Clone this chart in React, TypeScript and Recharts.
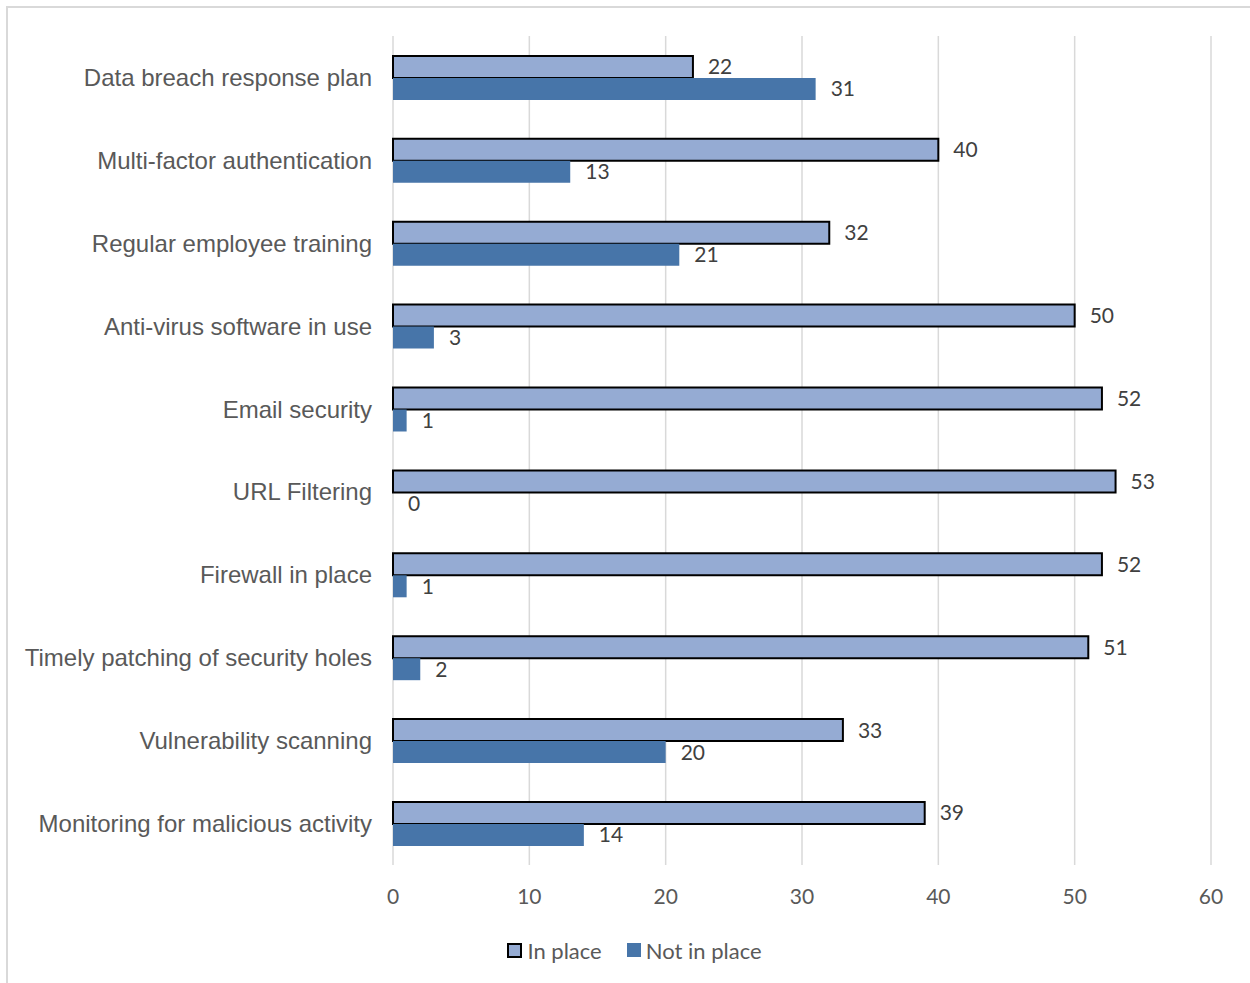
import React from 'react';
import {
  BarChart, Bar, XAxis, YAxis, CartesianGrid, Legend, LabelList,
} from 'recharts';

const categories = [
  'Data breach response plan',
  'Multi-factor authentication',
  'Regular employee training',
  'Anti-virus software in use',
  'Email security',
  'URL Filtering',
  'Firewall in place',
  'Timely patching of security holes',
  'Vulnerability scanning',
  'Monitoring for malicious activity',
];
const inPlace = [22, 40, 32, 50, 52, 53, 52, 51, 33, 39];
const notInPlace = [31, 13, 21, 3, 1, 0, 1, 2, 20, 14];
const xTicks = [0, 10, 20, 30, 40, 50, 60];

const data = categories.map((name, i) => ({
  name,
  inPlace: inPlace[i],
  notInPlace: notInPlace[i],
}));

const IN_COLOR = '#95ABD3';
const NOT_COLOR = '#4775A9';
const TEXT = '#595959';
const NUM_FONT = 'Lato, "Open Sans", sans-serif';

const LegendContent = () => (
  <div style={{ display: 'flex', justifyContent: 'center', alignItems: 'center', height: 30, marginLeft: 50, fontFamily: NUM_FONT, fontSize: 22, color: TEXT }}>
    <span style={{ display: 'inline-block', width: 11, height: 11, background: IN_COLOR, border: '2px solid #000', marginRight: 5 }} />
    <span style={{ marginRight: 25 }}>In place</span>
    <span style={{ display: 'inline-block', width: 14, height: 14, background: NOT_COLOR, marginRight: 5 }} />
    <span>Not in place</span>
  </div>
);

// a zero value still needs its "0" label, so give it a hair-thin bar
const tinyForZero = (value: number) => (value === 0 ? 0.01 : 0);

export default function App() {
  return (
    <div style={{
      position: 'absolute', left: 6, top: 6, width: 1244, height: 977, boxSizing: 'border-box',
      borderTop: '2px solid #d9d9d9', borderLeft: '2px solid #d9d9d9', background: '#fff',
    }}>
      <BarChart
        width={1242}
        height={975}
        data={data}
        layout="vertical"
        margin={{ top: 28, right: 39, left: 0, bottom: 18 }}
        barCategoryGap="24%"
        barGap={0}
      >
        <CartesianGrid horizontal={false} vertical stroke="#d9d9d9" strokeWidth={1.5} />
        <XAxis
          type="number"
          domain={[0, 60]}
          ticks={xTicks}
          axisLine={false}
          tickLine={false}
          tickSize={0}
          tickMargin={24}
          height={70}
          tick={{ fill: TEXT, fontSize: 21, fontFamily: NUM_FONT }}
        />
        <YAxis
          type="category"
          dataKey="name"
          width={385}
          axisLine={false}
          tickLine={false}
          tickSize={0}
          tickMargin={21}
          interval={0}
          tick={{ fill: TEXT, fontSize: 24, fontFamily: '"Liberation Sans", Arial, sans-serif' }}
        />
        <Legend verticalAlign="bottom" height={30} content={<LegendContent />} />
        <Bar dataKey="inPlace" name="In place" fill={IN_COLOR} stroke="#000" strokeWidth={2} isAnimationActive={false}>
          <LabelList dataKey="inPlace" position="right" offset={15} fill="#404040" fontSize={21} fontFamily={NUM_FONT} />
        </Bar>
        <Bar dataKey="notInPlace" name="Not in place" fill={NOT_COLOR} minPointSize={tinyForZero} isAnimationActive={false}>
          <LabelList dataKey="notInPlace" position="right" offset={15} fill="#404040" fontSize={21} fontFamily={NUM_FONT} />
        </Bar>
      </BarChart>
    </div>
  );
}
